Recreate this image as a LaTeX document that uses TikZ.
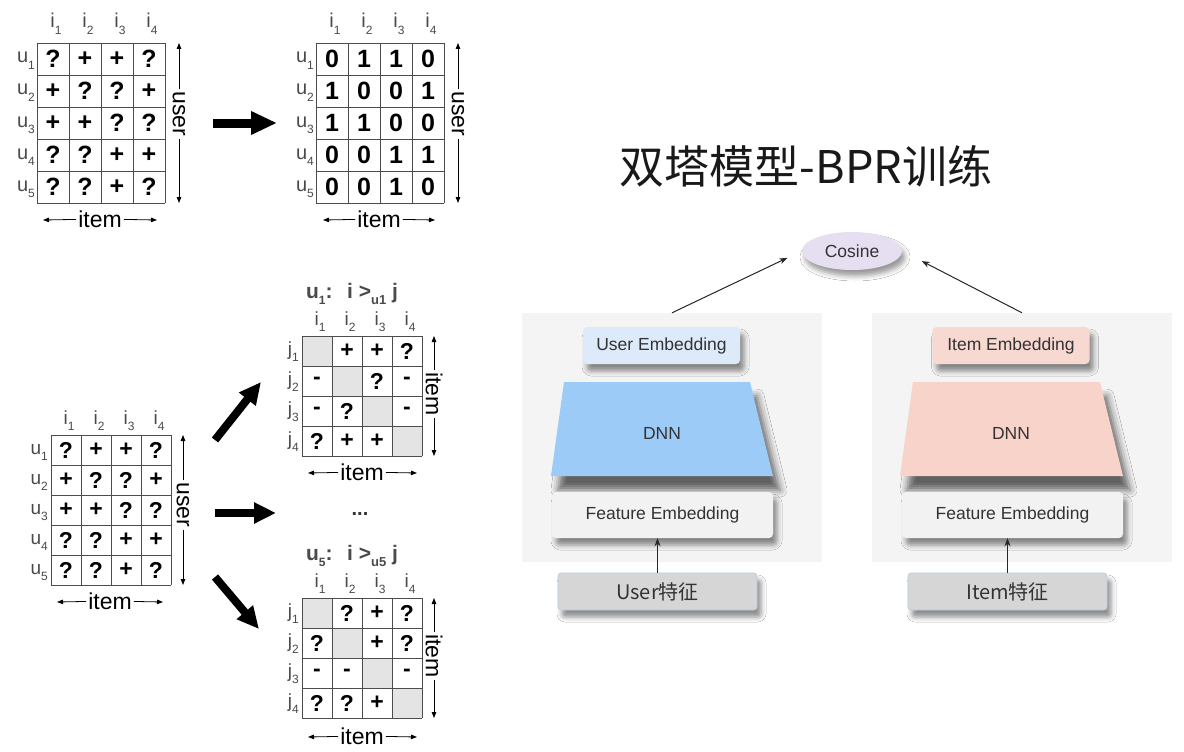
\documentclass[tikz,border=0pt]{standalone}
\usepackage{fontspec}
\setmainfont{Liberation Sans}
\newfontfamily\cjk{Noto Sans CJK SC}
\usetikzlibrary{arrows.meta,shapes.geometric,shadows.blur,positioning}

\definecolor{idxgray}{HTML}{4A4A4A}
\definecolor{txtgray}{HTML}{333333}
\definecolor{diaggray}{HTML}{E4E4E4}
\definecolor{panelgray}{HTML}{F4F4F4}
\definecolor{featgray}{HTML}{F2F2F2}
\definecolor{inputgray}{HTML}{D6D6D6}
\definecolor{inputedge}{HTML}{B4CCE6}
\definecolor{userlight}{HTML}{DCEAFA}
\definecolor{userblue}{HTML}{9DCBF8}
\definecolor{itemlight}{HTML}{F8D9D1}
\definecolor{itempink}{HTML}{F7D3C9}
\definecolor{cosfill}{HTML}{E6DEF1}

\newcommand\subidx[2]{#1\raisebox{-0.6ex}{\fontsize{12}{12}\selectfont #2}}

\begin{document}
\begin{tikzpicture}[x=1pt, y=-1pt,
	gridln/.style={line width=0.8pt, black!70},
	cellval/.style={font=\fontsize{25}{25}\selectfont\bfseries, inner sep=0pt},
	cellsm/.style={font=\fontsize{23}{23}\selectfont\bfseries, inner sep=0pt},
	idx/.style={font=\fontsize{20}{20}\selectfont, text=idxgray, inner sep=0pt},
	idxsm/.style={font=\fontsize{19}{19}\selectfont, text=idxgray, inner sep=0pt},
	axtxt/.style={font=\fontsize{23}{23}\selectfont, inner sep=2pt},
	axarr/.style={-{Triangle[length=6pt,width=4.5pt]}, line width=0.8pt},
	bigarr/.style={line width=9pt, -{Triangle[length=26pt,width=22pt]}},
	midarr/.style={line width=8pt, -{Triangle[length=22pt,width=20pt]}},
	pref/.style={font=\fontsize{21}{21}\selectfont\bfseries, text=idxgray, inner sep=0pt},
	panel/.style={fill=panelgray, minimum width=300pt, minimum height=249pt, inner sep=0pt},
	softshadow/.style={blur shadow={shadow xshift=4pt, shadow yshift=-7pt, shadow blur radius=5pt, shadow opacity=45}},
	embbox/.style={rounded corners=4pt, minimum width=157pt, minimum height=37pt, font=\fontsize{17.5}{17.5}\selectfont, text=txtgray, softshadow},
	featbox/.style={rounded corners=4pt, fill=featgray, minimum width=221pt, minimum height=46pt, font=\fontsize{17.5}{17.5}\selectfont, text=txtgray, softshadow},
	inbox/.style={rounded corners=3pt, fill=inputgray, draw=inputedge, line width=0.6pt, minimum width=199pt, minimum height=37pt, font=\cjk\fontsize{20}{20}\selectfont, text=txtgray, softshadow},
	conn/.style={-{Stealth[length=8pt,width=6pt]}, line width=1pt, black!85}
]
	\fill[white] (0,0) rectangle (1184,752);
	\useasboundingbox (0,0) rectangle (1184,752);

	% ---------- Matrix A: observed data ----------
	\foreach \c in {0, ..., 4} {
		\draw [gridln] (37+\c*32,43) -- (37+\c*32,203);
	}
	\foreach \r in {0, ..., 5} {
		\draw [gridln] (37,43+\r*32) -- (165,43+\r*32);
	}
	\foreach \row [count=\r] in {{?,+,+,?},{+,?,?,+},{+,+,?,?},{?,?,+,+},{?,?,+,?}} {
		\foreach \v [count=\c] in \row {
			\node [cellval] (ma-\r-\c) at (37+\c*32-16,43+\r*32-16) {\v};
		}
	}
	\foreach \r in {1, ..., 5} {
		\node [idx, anchor=base east] (ma-u\r) at (35,43+\r*32-12) {\subidx{u}{\r}};
	}
	\foreach \c in {1, ..., 4} {
		\node [idx, anchor=base] (ma-i\c) at (37+\c*32-13,28) {\subidx{i}{\c}};
	}
	\node [axtxt, rotate=-90] (ma-user) at (179,114) {user};
	\coordinate (ma-ut) at (179,43);
	\coordinate (ma-ub) at (179,203);
	\draw [axarr] (ma-user) -- (ma-ut);
	\draw [axarr] (ma-user) -- (ma-ub);
	\node [axtxt] (ma-item) at (100,219) {item};
	\coordinate (ma-il) at (43,220);
	\coordinate (ma-ir) at (157,220);
	\draw [axarr] (ma-item) -- (ma-il);
	\draw [axarr] (ma-item) -- (ma-ir);

	% ---------- Matrix B: 0/1 labels ----------
	\foreach \c in {0, ..., 4} {
		\draw [gridln] (316+\c*32,43) -- (316+\c*32,203);
	}
	\foreach \r in {0, ..., 5} {
		\draw [gridln] (316,43+\r*32) -- (444,43+\r*32);
	}
	\foreach \row [count=\r] in {{0,1,1,0},{1,0,0,1},{1,1,0,0},{0,0,1,1},{0,0,1,0}} {
		\foreach \v [count=\c] in \row {
			\node [cellval] (mb-\r-\c) at (316+\c*32-16,43+\r*32-16) {\v};
		}
	}
	\foreach \r in {1, ..., 5} {
		\node [idx, anchor=base east] (mb-u\r) at (314,43+\r*32-12) {\subidx{u}{\r}};
	}
	\foreach \c in {1, ..., 4} {
		\node [idx, anchor=base] (mb-i\c) at (316+\c*32-13,28) {\subidx{i}{\c}};
	}
	\node [axtxt, rotate=-90] (mb-user) at (458,114) {user};
	\coordinate (mb-ut) at (458,43);
	\coordinate (mb-ub) at (458,203);
	\draw [axarr] (mb-user) -- (mb-ut);
	\draw [axarr] (mb-user) -- (mb-ub);
	\node [axtxt] (mb-item) at (379,219) {item};
	\coordinate (mb-il) at (323,220);
	\coordinate (mb-ir) at (435,220);
	\draw [axarr] (mb-item) -- (mb-il);
	\draw [axarr] (mb-item) -- (mb-ir);

	% A to B
	\coordinate (ab-s) at (213,123);
	\coordinate (ab-e) at (277,123);
	\draw [bigarr] (ab-s) -- (ab-e);

	% ---------- Matrix C: observed data (bottom) ----------
	\foreach \c in {0, ..., 4} {
		\draw [gridln] (51+\c*30,435) -- (51+\c*30,585);
	}
	\foreach \r in {0, ..., 5} {
		\draw [gridln] (51,435+\r*30) -- (171,435+\r*30);
	}
	\foreach \row [count=\r] in {{?,+,+,?},{+,?,?,+},{+,+,?,?},{?,?,+,+},{?,?,+,?}} {
		\foreach \v [count=\c] in \row {
			\node [cellsm] (mc-\r-\c) at (51+\c*30-15,435+\r*30-15) {\v};
		}
	}
	\foreach \r in {1, ..., 5} {
		\node [idxsm, anchor=base east] (mc-u\r) at (48,435+\r*30-11) {\subidx{u}{\r}};
	}
	\foreach \c in {1, ..., 4} {
		\node [idxsm, anchor=base] (mc-i\c) at (51+\c*30-12,424) {\subidx{i}{\c}};
	}
	\node [axtxt, rotate=-90] (mc-user) at (183,505) {user};
	\coordinate (mc-ut) at (183,435);
	\coordinate (mc-ub) at (183,585);
	\draw [axarr] (mc-user) -- (mc-ut);
	\draw [axarr] (mc-user) -- (mc-ub);
	\node [axtxt] (mc-item) at (110,601) {item};
	\coordinate (mc-il) at (57,602);
	\coordinate (mc-ir) at (163,602);
	\draw [axarr] (mc-item) -- (mc-il);
	\draw [axarr] (mc-item) -- (mc-ir);

	% ---------- Matrix D: u1 pairs ----------
	\foreach \k in {1, ..., 4} {
		\fill [diaggray] (302+\k*30-30,336+\k*30-30) rectangle ++(30,30);
	}
	\foreach \c in {0, ..., 4} {
		\draw [gridln] (302+\c*30,336) -- (302+\c*30,456);
	}
	\foreach \r in {0, ..., 4} {
		\draw [gridln] (302,336+\r*30) -- (422,336+\r*30);
	}
	\foreach \row [count=\r] in {{{},+,+,?},{-,{},?,-},{-,?,{},-},{?,+,+,{}}} {
		\foreach \v [count=\c] in \row {
			\node [cellsm] (md-\r-\c) at (302+\c*30-15,336+\r*30-15) {\v};
		}
	}
	\foreach \r in {1, ..., 4} {
		\node [idxsm, anchor=base east] (md-j\r) at (299,336+\r*30-11) {\subidx{j}{\r}};
	}
	\foreach \c in {1, ..., 4} {
		\node [idxsm, anchor=base] (md-i\c) at (302+\c*30-12,325) {\subidx{i}{\c}};
	}
	\node [pref, anchor=base] (md-title) at (352,298) {\subidx{u}{1}:\hspace{0.7em}i >\raisebox{-0.6ex}{\fontsize{13}{13}\selectfont u1} j};
	\node [axtxt, rotate=-90] (md-item) at (434,394) {item};
	\coordinate (md-it) at (434,336);
	\coordinate (md-ib) at (434,456);
	\draw [axarr] (md-item) -- (md-it);
	\draw [axarr] (md-item) -- (md-ib);
	\node [axtxt] (md-hitem) at (362,472) {item};
	\coordinate (md-il) at (308,473);
	\coordinate (md-ir) at (417,473);
	\draw [axarr] (md-hitem) -- (md-il);
	\draw [axarr] (md-hitem) -- (md-ir);

	% ---------- Matrix E: u5 pairs ----------
	\foreach \k in {1, ..., 4} {
		\fill [diaggray] (302+\k*30-30,598+\k*30-30) rectangle ++(30,30);
	}
	\foreach \c in {0, ..., 4} {
		\draw [gridln] (302+\c*30,598) -- (302+\c*30,718);
	}
	\foreach \r in {0, ..., 4} {
		\draw [gridln] (302,598+\r*30) -- (422,598+\r*30);
	}
	\foreach \row [count=\r] in {{{},?,+,?},{?,{},+,?},{-,-,{},-},{?,?,+,{}}} {
		\foreach \v [count=\c] in \row {
			\node [cellsm] (me-\r-\c) at (302+\c*30-15,598+\r*30-15) {\v};
		}
	}
	\foreach \r in {1, ..., 4} {
		\node [idxsm, anchor=base east] (me-j\r) at (299,598+\r*30-11) {\subidx{j}{\r}};
	}
	\foreach \c in {1, ..., 4} {
		\node [idxsm, anchor=base] (me-i\c) at (302+\c*30-12,587) {\subidx{i}{\c}};
	}
	\node [pref, anchor=base] (me-title) at (352,560) {\subidx{u}{5}:\hspace{0.7em}i >\raisebox{-0.6ex}{\fontsize{13}{13}\selectfont u5} j};
	\node [axtxt, rotate=-90] (me-item) at (434,656) {item};
	\coordinate (me-it) at (434,598);
	\coordinate (me-ib) at (434,718);
	\draw [axarr] (me-item) -- (me-it);
	\draw [axarr] (me-item) -- (me-ib);
	\node [axtxt] (me-hitem) at (362,736) {item};
	\coordinate (me-il) at (308,737);
	\coordinate (me-ir) at (417,737);
	\draw [axarr] (me-hitem) -- (me-il);
	\draw [axarr] (me-hitem) -- (me-ir);

	% dots between D and E
	\node [font=\fontsize{20}{20}\selectfont\bfseries, text=black!80] (dots) at (360,514) {...};

	% C to D / dots / E
	\coordinate (cd-s) at (215,440);
	\coordinate (cd-e) at (261,382);
	\draw [midarr] (cd-s) -- (cd-e);
	\coordinate (cm-s) at (215,513);
	\coordinate (cm-e) at (276,513);
	\draw [midarr] (cm-s) -- (cm-e);
	\coordinate (ce-s) at (215,577);
	\coordinate (ce-e) at (259,629);
	\draw [midarr] (ce-s) -- (ce-e);

	% ---------- Two tower model ----------
	\node [font=\cjk\fontsize{45}{45}\selectfont, text=black!90] (title) at (806,166) {双塔模型-BPR训练};

	% User tower
	\node [panel] (upanel) at (672,437.5) {};
	\node [embbox, fill=userlight] (uemb) at (661.5,345.5) {User Embedding};
	\fill [userblue, blur shadow={shadow xshift=7pt, shadow yshift=-14pt, shadow blur radius=7pt, shadow opacity=60}]
		(564,382) -- (750,382) -- (773,476) -- (551,476) -- cycle;
	\node [font=\fontsize{17.5}{17.5}\selectfont, text=txtgray] (udnn) at (662,433) {DNN};
	\node [featbox] (ufeat) at (662.5,515) {Feature Embedding};
	\node [inbox] (uin) at (657.5,591.5) {User特征};
	\draw [conn] (uin) -- (uin |- ufeat.south);

	% Item tower
	\node [panel] (ipanel) at (1022,437.5) {};
	\node [embbox, fill=itemlight] (iemb) at (1011,345.5) {Item Embedding};
	\fill [itempink, blur shadow={shadow xshift=7pt, shadow yshift=-14pt, shadow blur radius=7pt, shadow opacity=60}]
		(913,382) -- (1100,382) -- (1123,476) -- (900,476) -- cycle;
	\node [font=\fontsize{17.5}{17.5}\selectfont, text=txtgray] (idnn) at (1011,433) {DNN};
	\node [featbox] (ifeat) at (1012.5,515) {Feature Embedding};
	\node [inbox] (iin) at (1007.5,591.5) {Item特征};
	\draw [conn] (iin) -- (iin |- ifeat.south);

	% Cosine
	\node [ellipse, fill=cosfill, minimum width=100pt, minimum height=38pt, font=\fontsize{17.5}{17.5}\selectfont, text=txtgray,
		blur shadow={shadow xshift=3pt, shadow yshift=-6pt, shadow blur radius=5pt, shadow opacity=40}] (cos) at (852,251) {Cosine};
	\draw [conn, shorten >=16pt] (upanel.north) -- (cos.west);
	\draw [conn, shorten >=22pt] (ipanel.north) -- (cos.east);
\end{tikzpicture}
\end{document}
